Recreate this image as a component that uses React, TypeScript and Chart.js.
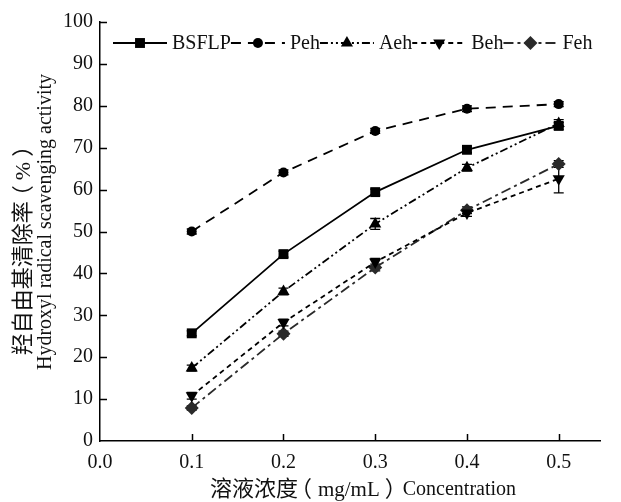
import React, { useEffect, useRef } from 'react';
import { Chart, registerables } from 'chart.js';

Chart.register(...registerables);

const concentrations = [0.1, 0.2, 0.3, 0.4, 0.5];
const seriesNames = ['BSFLP', 'Peh', 'Aeh', 'Beh', 'Feh'];
const bsflp = [25.7, 44.6, 59.4, 69.5, 75.2];
const peh = [50.0, 64.1, 74.0, 79.3, 80.4];
const aeh = [17.4, 35.7, 51.8, 65.2, 75.8];
const beh = [10.8, 28.3, 42.7, 54.4, 62.6];
const feh = [7.9, 25.6, 41.4, 55.1, 66.1];
const bsflpErr = [0.6, 0.7, 0.7, 0.7, 0.8];
const pehErr = [0.6, 0.6, 0.6, 0.7, 0.6];
const aehErr = [0.7, 0.8, 1.3, 0.8, 0.9];
const behErr = [0.8, 0.8, 0.9, 0.8, 3.4];
const fehErr = [0.5, 0.6, 0.8, 0.8, 0.8];
const xTicks = [0, 0.1, 0.2, 0.3, 0.4, 0.5];
const yTicks = [0, 10, 20, 30, 40, 50, 60, 70, 80, 90, 100];
const xTitle = ['溶液浓度', '（', 'mg/mL', '）', 'Concentration'];
const yTitleCn = ['羟自由基清除率', '（', '%', '）'];
const yTitleEn = 'Hydroxyl radical scavenging activity';

const SERIF = "'Liberation Serif', 'Noto Sans CJK SC', serif";

const styles = [
  { shape: 'rect', r: 7, dash: [] as number[], color: '#000' },
  { shape: 'circle', r: 5, dash: [10, 7], color: '#000' },
  { shape: 'triangle', r: 7, dash: [8, 3, 2, 3, 2, 3], color: '#000' },
  { shape: 'triangleDown', r: 7, dash: [5, 4], color: '#000' },
  { shape: 'rectRot', r: 7, dash: [10, 4, 3, 4], color: '#2a2a2a' },
];

const allValues = [bsflp, peh, aeh, beh, feh];
const allErrors = [bsflpErr, pehErr, aehErr, behErr, fehErr];

function drawShape(ctx: CanvasRenderingContext2D, shape: string, x: number, y: number, r: number, color: string) {
  ctx.save();
  ctx.fillStyle = color;
  ctx.beginPath();
  if (shape === 'rect') {
    const s = Math.SQRT1_2 * r;
    ctx.rect(x - s, y - s, 2 * s, 2 * s);
  } else if (shape === 'circle') {
    ctx.arc(x, y, r, 0, Math.PI * 2);
  } else if (shape === 'triangle' || shape === 'triangleDown') {
    const sgn = shape === 'triangle' ? 1 : -1;
    for (let k = 0; k < 3; k++) {
      const a = (k * 2 * Math.PI) / 3;
      const px = x + Math.sin(a) * r;
      const py = y - sgn * Math.cos(a) * r;
      if (k === 0) ctx.moveTo(px, py);
      else ctx.lineTo(px, py);
    }
    ctx.closePath();
  } else if (shape === 'rectRot') {
    ctx.moveTo(x - r, y);
    ctx.lineTo(x, y - r);
    ctx.lineTo(x + r, y);
    ctx.lineTo(x, y + r);
    ctx.closePath();
  }
  ctx.fill();
  ctx.restore();
}

function drawPieces(
  ctx: CanvasRenderingContext2D,
  pieces: string[],
  gaps: number[],
  sizes: number[],
  cx: number,
  cy: number
) {
  let total = 0;
  pieces.forEach((s, k) => {
    ctx.font = `${sizes[k]}px ${SERIF}`;
    total += gaps[k] + ctx.measureText(s).width;
  });
  let tx = cx - total / 2;
  pieces.forEach((s, k) => {
    ctx.font = `${sizes[k]}px ${SERIF}`;
    tx += gaps[k];
    ctx.fillText(s, tx, cy);
    tx += ctx.measureText(s).width;
  });
}

const customPlugin = {
  id: 'custom',
  beforeDatasetsDraw(chart: any) {
    const ctx = chart.ctx as CanvasRenderingContext2D;
    const xs = chart.scales.x;
    const ys = chart.scales.y;
    ctx.save();
    ctx.strokeStyle = '#000';
    ctx.lineWidth = 1.3;
    allValues.forEach((vals, i) => {
      vals.forEach((v, j) => {
        const e = allErrors[i][j];
        const px = xs.getPixelForValue(concentrations[j]);
        const top = ys.getPixelForValue(v + e);
        const bot = ys.getPixelForValue(v - e);
        ctx.beginPath();
        ctx.moveTo(px, top);
        ctx.lineTo(px, bot);
        ctx.moveTo(px - 5, top);
        ctx.lineTo(px + 5, top);
        ctx.moveTo(px - 5, bot);
        ctx.lineTo(px + 5, bot);
        ctx.stroke();
      });
    });
    ctx.restore();
  },
  afterDraw(chart: any) {
    const ctx = chart.ctx as CanvasRenderingContext2D;
    const xs = chart.scales.x;
    const ys = chart.scales.y;
    const area = chart.chartArea;
    ctx.save();
    // inward ticks
    ctx.strokeStyle = '#000';
    ctx.lineWidth = 1.5;
    ctx.beginPath();
    xTicks.forEach((t) => {
      if (t === 0) return;
      const px = Math.round(xs.getPixelForValue(t)) + 0.5;
      ctx.moveTo(px, area.bottom);
      ctx.lineTo(px, area.bottom - 7);
    });
    yTicks.forEach((t) => {
      if (t === 0) return;
      const py = Math.round(ys.getPixelForValue(t)) + 0.5;
      ctx.moveTo(area.left, py);
      ctx.lineTo(area.left + 7, py);
    });
    ctx.stroke();

    // legend
    ctx.font = `20px ${SERIF}`;
    ctx.textBaseline = 'middle';
    ctx.fillStyle = '#111';
    let lx = 113;
    const ly = 43;
    const L = 54;
    seriesNames.forEach((name, i) => {
      const st = styles[i];
      ctx.save();
      ctx.strokeStyle = st.color;
      ctx.lineWidth = 1.8;
      ctx.setLineDash(st.dash);
      ctx.beginPath();
      ctx.moveTo(lx, ly);
      ctx.lineTo(lx + L, ly);
      ctx.stroke();
      ctx.restore();
      drawShape(ctx, st.shape, lx + L / 2, ly, st.r, st.color);
      ctx.fillStyle = '#111';
      ctx.textAlign = 'left';
      ctx.font = `20px ${SERIF}`;
      ctx.fillText(name, lx + L + 5, ly + 1);
      lx += L + 5 + ctx.measureText(name).width;
    });

    // x title
    ctx.textBaseline = 'middle';
    ctx.textAlign = 'left';
    drawPieces(ctx, xTitle, [0, -8, 6, 5, -4], [22, 22, 21, 22, 20], 363, 490);

    // y titles
    ctx.save();
    ctx.translate(24, 245);
    ctx.rotate(-Math.PI / 2);
    ctx.textAlign = 'left';
    drawPieces(ctx, yTitleCn, [0, -6, 5, 5], [22, 22, 22, 22], 0, 0);
    ctx.restore();
    ctx.save();
    ctx.font = `20px ${SERIF}`;
    ctx.translate(46, 222);
    ctx.rotate(-Math.PI / 2);
    ctx.textAlign = 'center';
    ctx.fillText(yTitleEn, 0, 0);
    ctx.restore();

    ctx.restore();
  },
};

export default function App() {
  const ref = useRef<HTMLCanvasElement | null>(null);
  useEffect(() => {
    if (!ref.current) return;
    const datasets = seriesNames.map((name, i) => ({
      label: name,
      data: concentrations.map((c, j) => ({ x: c, y: allValues[i][j] })),
      borderColor: styles[i].color,
      backgroundColor: styles[i].color,
      borderWidth: 1.8,
      borderDash: styles[i].dash,
      pointStyle: styles[i].shape === 'triangleDown' ? 'triangle' : styles[i].shape,
      rotation: styles[i].shape === 'triangleDown' ? 180 : 0,
      pointRadius: styles[i].r,
      pointBorderWidth: 0,
      pointBackgroundColor: styles[i].color,
      pointBorderColor: styles[i].color,
      tension: 0,
      fill: false,
    }));
    const chart = new Chart(ref.current, {
      type: 'line',
      data: { datasets: datasets as any },
      plugins: [customPlugin],
      options: {
        animation: false,
        responsive: true,
        maintainAspectRatio: false,
        layout: { padding: { top: 22, right: 21, left: 0, bottom: 0 } },
        plugins: { legend: { display: false }, tooltip: { enabled: false } },
        scales: {
          x: {
            type: 'linear',
            min: 0,
            max: 0.545,
            afterBuildTicks: (scale: any) => {
              scale.ticks = xTicks.map((v) => ({ value: v }));
            },
            afterFit: (scale: any) => {
              scale.height = 61;
            },
            grid: { display: false, drawTicks: false, tickLength: 0 },
            border: { display: true, color: '#000', width: 1.5 },
            ticks: {
              padding: 10,
              maxRotation: 0,
              autoSkip: false,
              color: '#111',
              font: { family: SERIF, size: 20 },
              callback: (v: any) => Number(v).toFixed(1),
            },
          },
          y: {
            type: 'linear',
            min: 0,
            max: 100,
            afterBuildTicks: (scale: any) => {
              scale.ticks = yTicks.map((v) => ({ value: v }));
            },
            afterFit: (scale: any) => {
              scale.width = 100;
            },
            grid: { display: false, drawTicks: false, tickLength: 0 },
            border: { display: true, color: '#000', width: 1.5 },
            ticks: {
              padding: 7,
              autoSkip: false,
              color: '#111',
              font: { family: SERIF, size: 20 },
              callback: (v: any) => String(v),
            },
          },
        },
      },
    });
    return () => chart.destroy();
  }, []);
  return (
    <div style={{ position: 'absolute', left: 0, top: 0, width: 621, height: 502, background: '#fff' }}>
      <canvas ref={ref} />
    </div>
  );
}
